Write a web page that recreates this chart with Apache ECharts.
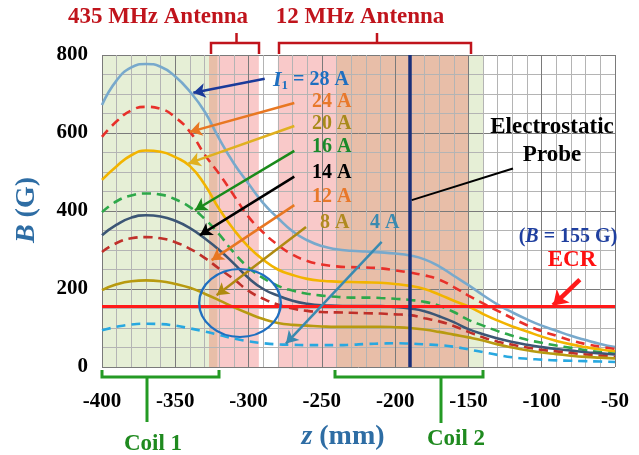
<!DOCTYPE html>
<html><head><meta charset="utf-8">
<script src="https://cdn.jsdelivr.net/npm/echarts@6/dist/echarts.min.js"></script>
<style>html,body{margin:0;padding:0;background:#fff}#c{width:639px;height:455px}</style>
</head><body><div id="c"></div>
<script>
// ---- data ----
const zs = [-400,-390,-380,-370,-360,-350,-340,-330,-320,-310,-300,-290,-280,-270,-260,-250,-240,-230,-220,-210,-200,-190,-180,-170,-160,-150,-140,-130,-120,-110,-100,-90,-80,-70,-60,-50];
const b28 = [672,735,768,777,770,745,706,655,585,522,470,420,382,348,325,310,302,298,296,294,291,286,276,258,234,210,184,160,140,122,106,93,80,69,59,51];
const b24 = [590,630,658,667,662,640,603,545,495,440,385,345,313,288,272,263,258,256,255,253,248,242,235,224,205,183,163,144,125,107,92,80,68,59,52,46];
const b20 = [480,515,543,555,552,538,515,468,405,352,308,275,250,236,226,221,219,218,217,216,213,208,200,186,170,155,136,119,104,91,78,67,58,51,45,40];
const b16 = [397,425,440,445,442,430,410,380,340,293,255,228,208,196,188,183,180,178,178,177,175,172,167,157,141,121,106,92,80,70,62,55,49,43,38,34];
const b14 = [338,365,383,389,386,375,356,330,300,265,228,200,183,170,162,158,157,156,156,156,154,150,143,130,115,97,84,73,64,57,51,46,42,38,35,32];
const b12 = [295,318,330,333,330,320,303,280,252,225,195,175,160,150,144,141,140,139,138,137,135,133,125,117,105,90,76,65,57,50,44,40,36,32,29,26];
const b8  = [197,212,220,222,220,213,203,188,171,153,137,123,113,108,106,104,103,103,103,103,102,100,96,90,83,76,68,58,50,43,37,33,29,26,24,22];
const b4  = [94,103,109,111,110,106,99,91,82,73,66,61,58,57,56,56,56,57,59,60,61,60,58,56,52,45,38,31,25,21,19,17,16,15,14,13];
const currents = ['28 A','24 A','20 A','16 A','14 A','12 A','8 A','4 A'];
const ecrB = 155;
const probeZ = -190;
const xTicks = [-400,-350,-300,-250,-200,-150,-100,-50];
const yTicks = [0,200,400,600,800];
// regions: [start, end, kind]
const regions = [[-400,-327,'g'],[-327,-321,'o'],[-321,-293,'p'],[-280,-240,'p'],[-240,-150,'o'],[-150,-140,'g']];
// label arrows: [zStart,BStart,zEnd,BEnd]
const arrows = [
  [-289,739,-337.7,703],
  [-268.8,677,-340,603],
  [-268.8,618,-341,522],
  [-268.8,554,-336.6,402],
  [-268.8,488,-333.2,338],
  [-268.8,415,-325.2,274],
  [-260.8,359,-321.8,184],
  [-209.2,321,-274.5,60]
];
const probeLeader = [-119.6,509,-188.7,428];
const ecrArrow = [-74,224,-92.2,158];

// ---- styles ----
const serif = "'Liberation Serif','Times New Roman',serif";
const seriesStyle = [
  {c:'#78a9cc',d:false},{c:'#e8302a',d:true},{c:'#f2b400',d:false},{c:'#2ea84a',d:true},
  {c:'#3c5675',d:false},{c:'#c0302a',d:true},{c:'#b89a10',d:false},{c:'#28a8e0',d:true}
];
const arrowColors = ['#1a3a9a','#e87722','#e0b020','#1a8a1a','#000000','#e87722','#b08a10','#3a8ab0'];
const regionColor = {g:'#e6efd6',p:'#f9c9c9',o:'#e8bea8'};

const allB = [b28,b24,b20,b16,b14,b12,b8,b4];
const series = allB.map((arr,i)=>({
  name: currents[i], type:'line', smooth:true, showSymbol:false, z:3,
  data: zs.map((z,j)=>[z,arr[j]]),
  lineStyle:{color:seriesStyle[i].c,width:2.6,type:seriesStyle[i].d?[9,6]:'solid'}
}));
series.unshift({
  type:'line', data:[], z:-1, silent:true,
  markArea:{silent:true, z:-1, data: regions.map(r=>[{xAxis:r[0],itemStyle:{color:regionColor[r[2]]}},{xAxis:r[1]}])}
});
series.push({
  type:'line', data:[], z:5, silent:true,
  markLine:{silent:true, symbol:['none','none'], label:{show:false}, animation:false,
    data:[
      {yAxis:ecrB, lineStyle:{color:'#ff1a1a',width:3,type:'solid'}},
      {xAxis:probeZ, lineStyle:{color:'#1a2f7a',width:3.5,type:'solid'}},
      [{coord:[probeLeader[0],probeLeader[1]],lineStyle:{color:'#000',width:2,type:'solid'}},{coord:[probeLeader[2],probeLeader[3]]}]
    ]}
});
series.push({
  type:'line', data:[], z:6, silent:true,
  markLine:{silent:true, symbol:['none','arrow'], symbolSize:[11,12], label:{show:false}, animation:false,
    data: arrows.map((a,i)=>[{coord:[a[0],a[1]],lineStyle:{color:arrowColors[i],width:2.5,type:'solid'}},{coord:[a[2],a[3]]}])
      .concat([[{coord:[ecrArrow[0],ecrArrow[1]],symbolSize:[14,14],lineStyle:{color:'#ff1a1a',width:4.5,type:'solid'}},{coord:[ecrArrow[2],ecrArrow[3]],symbolSize:[14,14]}]])
  }
});

const txt = (x,y,text,color,size,extra)=>Object.assign({type:'text',x:x,y:y,z:50,
  style:Object.assign({text:text,fill:color,font:'bold '+size+'px '+serif,align:'center',verticalAlign:'middle'},extra||{})});
const poly = (pts,color,w)=>({type:'polyline',z:50,shape:{points:pts},style:{stroke:color,lineWidth:w,fill:null}});

const graphics = [
  txt(158,17,'435 MHz Antenna','#c0141c',23),
  txt(360,17,'12 MHz Antenna','#c0141c',23),
  poly([[211,54],[211,43],[259,43],[259,54]],'#c0141c',2.5),
  poly([[236.5,43],[236.5,33]],'#c0141c',2.5),
  poly([[279,54],[279,43],[471,43],[471,54]],'#c0141c',2.5),
  poly([[377,43],[377,33]],'#c0141c',2.5),
  poly([[102,370],[102,377],[219,377],[219,370]],'#249a24',3),
  poly([[147,377],[147,422]],'#249a24',3),
  poly([[335,370],[335,377],[483,377],[483,370]],'#249a24',3),
  poly([[441,377],[441,423]],'#249a24',3),
  txt(153,444,'Coil 1','#1f8a1f',23),
  txt(456,439,'Coil 2','#1f8a1f',23),
  {type:'text',x:343,y:437,z:50,style:{text:'{i|z} (mm)',fill:'#2e6da4',font:'bold 28px '+serif,align:'center',verticalAlign:'middle',
    rich:{i:{fontStyle:'italic',fontWeight:'bold',fontSize:28,fontFamily:serif,fill:'#2e6da4'}}}},
  {type:'text',x:27,y:210,z:50,rotation:Math.PI/2,style:{text:'{i|B} (G)',fill:'#2e6da4',font:'bold 28px '+serif,align:'center',verticalAlign:'middle',
    rich:{i:{fontStyle:'italic',fontWeight:'bold',fontSize:28,fontFamily:serif,fill:'#2e6da4'}}}},
  {type:'text',x:273,y:80,z:50,style:{text:'{i|I}{s|1}{n| = 28 A}',align:'left',verticalAlign:'middle',
    rich:{i:{fontStyle:'italic',fontWeight:'bold',fontSize:22,fontFamily:serif,fill:'#1e6fc0'},
          s:{fontWeight:'bold',fontSize:13,fontFamily:serif,fill:'#1e6fc0',padding:[12,0,0,0]},
          n:{fontWeight:'bold',fontSize:20,fontFamily:serif,fill:'#1e6fc0'}}}},
  txt(312,102,'24 A','#e8782a',20,{align:'left'}),
  txt(312,124,'20 A','#a88a1a',20,{align:'left'}),
  txt(312,147,'16 A','#1a8a2a',20,{align:'left'}),
  txt(312,173,'14 A','#000000',20,{align:'left'}),
  txt(312,197,'12 A','#e8782a',20,{align:'left'}),
  txt(320,223,'8 A','#b08a20',20,{align:'left'}),
  txt(370,223,'4 A','#3a8ab0',20,{align:'left'}),
  txt(552,127,'Electrostatic','#000',23),
  txt(552,155,'Probe','#000',23),
  {type:'text',x:568,y:237,z:50,style:{text:'({i|B} = 155 G)',fill:'#1f3f9f',font:'bold 20px '+serif,align:'center',verticalAlign:'middle',
    rich:{i:{fontStyle:'italic',fontWeight:'bold',fontSize:20,fontFamily:serif,fill:'#1f3f9f'}}}},
  txt(572,260,'ECR','#ff1010',23),
  {type:'circle',x:240,y:303,scaleX:1.2,z:40,shape:{cx:0,cy:0,r:34},style:{stroke:'#1f6fc0',lineWidth:2,fill:null}}
];

const chart = echarts.init(document.getElementById('c'),null,{renderer:'canvas'});
chart.setOption({
  animation:false,
  backgroundColor:'#fff',
  grid:{left:102,right:24,top:55,bottom:88},
  xAxis:{type:'value',min:xTicks[0],max:xTicks[xTicks.length-1],interval:50,
    axisLine:{show:false},axisTick:{show:false},
    axisLabel:{margin:24,fontSize:21,fontWeight:'bold',fontFamily:serif,color:'#000'},
    splitLine:{show:true,lineStyle:{color:'#7a7a7a',width:1}},
    minorTick:{show:false,splitNumber:5},
    minorSplitLine:{show:true,lineStyle:{color:'#b4b4b4',width:1}}},
  yAxis:{type:'value',min:yTicks[0],max:yTicks[yTicks.length-1],interval:200,
    axisLine:{show:false},axisTick:{show:false},
    axisLabel:{margin:14,fontSize:21,fontWeight:'bold',fontFamily:serif,color:'#000'},
    splitLine:{show:true,lineStyle:{color:'#7a7a7a',width:1}},
    minorTick:{show:false,splitNumber:4},
    minorSplitLine:{show:true,lineStyle:{color:'#b4b4b4',width:1}}},
  series:series,
  graphic:graphics
});
</script></body></html>
